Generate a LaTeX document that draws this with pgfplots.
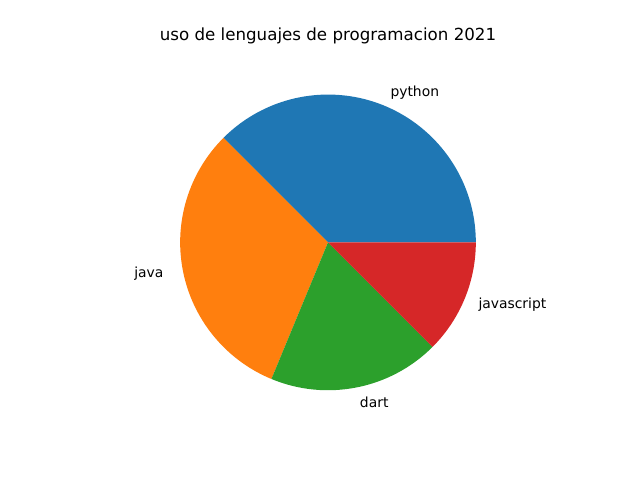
\documentclass[border=0pt]{standalone}
\usepackage{fontspec}
\setmainfont{DejaVu Sans}
\usepackage{pgfplots}
\usepackage{pgfplotstable}
\pgfplotsset{compat=1.18}

\definecolor{c0}{HTML}{1F77B4}
\definecolor{c1}{HTML}{FF7F0E}
\definecolor{c2}{HTML}{2CA02C}
\definecolor{c3}{HTML}{D62728}

\pgfplotstableread{
label      value
python     30
java       25
dart       15
javascript 10
}\lenguajes

\begin{document}
\begin{tikzpicture}
\def\R{106.44pt}
% total and cumulative angles (matplotlib starts at 0 deg, counterclockwise)
\def\total{0}
\pgfplotsforeachungrouped \i in {0,...,3}{%
  \pgfplotstablegetelem{\i}{value}\of\lenguajes
  \pgfmathsetmacro\total{\total+\pgfplotsretval}%
}
\def\acc{0}
\pgfplotsforeachungrouped \i in {0,...,3}{%
  \pgfplotstablegetelem{\i}{value}\of\lenguajes
  \expandafter\xdef\csname sa\i\endcsname{\acc}%
  \pgfmathsetmacro\acc{\acc+360*\pgfplotsretval/\total}%
  \expandafter\xdef\csname ea\i\endcsname{\acc}%
  \pgfmathsetmacro\m{(\csname sa\i\endcsname+\acc)/2}%
  \pgfmathsetmacro\lx{1.1*cos(\m)}%
  \pgfmathsetmacro\ly{1.1*sin(\m)}%
  \expandafter\xdef\csname lx\i\endcsname{\lx}%
  \expandafter\xdef\csname ly\i\endcsname{\ly}%
  \ifdim\lx pt>0pt
    \expandafter\xdef\csname an\i\endcsname{west}%
    \expandafter\xdef\csname xs\i\endcsname{0pt}%
  \else
    \expandafter\xdef\csname an\i\endcsname{east}%
    \expandafter\xdef\csname xs\i\endcsname{-3.5pt}%
  \fi
  \pgfplotstablegetelem{\i}{label}\of\lenguajes
  \expandafter\xdef\csname lb\i\endcsname{\pgfplotsretval}%
}
\begin{axis}[
  hide axis, clip=false,
  at={(0,0)}, anchor=center,
  x=106.44pt, y=106.44pt,
  xmin=-1.25, xmax=1.25, ymin=-1.25, ymax=1.25,
  title={uso de lenguajes de programacion 2021},
  title style={at={(0.5,1)}, anchor=base, yshift=6pt,
               font=\fontsize{12}{14.4}\selectfont},
]
\pgfplotsinvokeforeach{0,...,3}{%
  \edef\temp{%
    \noexpand\fill[c#1] (axis cs:0,0) -- ++(\csname sa#1\endcsname:\R)
      arc[start angle=\csname sa#1\endcsname, end angle=\csname ea#1\endcsname, radius=\R] -- cycle;
    \noexpand\node[anchor=\csname an#1\endcsname, inner sep=0pt, xshift=\csname xs#1\endcsname]
      at (axis cs:\csname lx#1\endcsname,\csname ly#1\endcsname) {\csname lb#1\endcsname};
  }\temp
}
\end{axis}
\pgfresetboundingbox
\path[use as bounding box] (-236.16pt,-171.07pt) rectangle (224.64pt,174.53pt);
\end{tikzpicture}
\end{document}
